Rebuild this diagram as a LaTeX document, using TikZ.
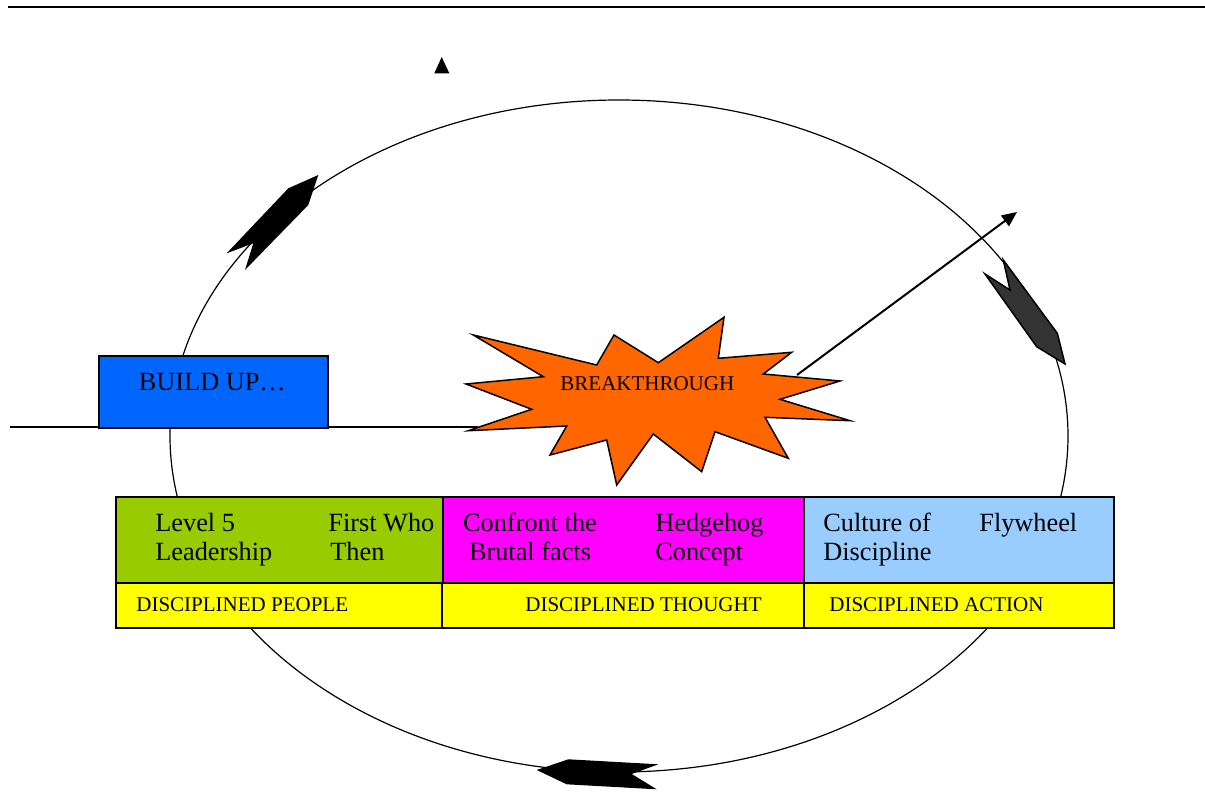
\documentclass[tikz,border=0pt]{standalone}
\usepackage{fontspec}
\setmainfont{Liberation Serif}
\usepackage[usenames,dvipsnames]{xcolor}
\usepackage{tikz}
\usetikzlibrary{shapes,arrows,arrows.meta}

\begin{document}
\begin{tikzpicture}[x=0.5pt,y=-0.5pt,line join=miter]
\useasboundingbox (0,0) rectangle (1205,792);
\tikzset{bigtext/.style={font=\fontsize{13.15}{14.5}\selectfont, inner sep=0pt, align=left, anchor=base west},
  smalltext/.style={font=\fontsize{10.5}{12}\selectfont, inner sep=0pt, anchor=base west},
  panel/.style={draw, line width=0.75pt, rectangle, inner sep=0pt, anchor=north west}}
\definecolor{buildColor}{RGB}{0,102,255}
\definecolor{burstColor}{RGB}{255,102,0}
\definecolor{peopleColor}{RGB}{153,204,0}
\definecolor{thoughtColor}{RGB}{255,0,255}
\definecolor{actionColor}{RGB}{153,204,255}
\definecolor{barColor}{RGB}{255,255,0}
\definecolor{wheelColor}{RGB}{51,51,51}
% rule and loop
\draw[line width=0.7pt] (8,7) -- (1205,7);
\draw[line width=0.6pt] (619,436) ellipse [x radius=449, y radius=336];
\fill (441.7,57) -- (449.3,73.3) -- (434.3,73.3) -- cycle;
% build up
\coordinate (base start) at (10,427);
\coordinate (burst west) at (478,427);
\draw[line width=0.75pt] (base start) -- (burst west);
\node[panel, fill=buildColor, minimum width=114.5pt, minimum height=36pt] (buildup) at (98,355) {};
\node[bigtext] (buildup text) at (138.5,390) {BUILD UP…};
% breakthrough
\draw[fill=burstColor, line width=0.75pt] (473.3,335) -- (596.7,365) -- (614,335) -- (658.3,362.7) -- (724,317.3) -- (718.3,358.3) -- (791.7,352.3) -- (763.3,374) -- (840,381) -- (780,399.3) -- (850,420.7) -- (765,417.3) -- (788.3,458.3) -- (715,431.7) -- (701.7,471.7) -- (653.3,434) -- (616.7,485) -- (606.7,440) -- (550,455) -- (566.7,426) -- (468.3,430.7) -- (531.7,409.3) -- (466,384) -- (543.3,376.7) -- cycle;
\node[smalltext] (burst text) at (560,390.7) {BREAKTHROUGH};
\coordinate (burst ne) at (797,375);
\coordinate (arrow end) at (1017,212);
\draw[-{Triangle[length=7.5pt,width=6.5pt]},line width=1pt] (burst ne) -- (arrow end);
% flywheel arrows
\fill (318.3,175) -- (288.3,188.3) -- (226.7,253.3) -- (253.3,243.3) -- (245,270) -- (308.3,205) -- cycle;
\draw[fill=wheelColor, line width=0.75pt] (1003.3,260) -- (1010,290) -- (985,274) -- (1036.7,346.7) -- (1065,364) -- (1057.3,333.3) -- cycle;
\fill (536.7,770) -- (568.3,759.3) -- (658.3,764.3) -- (631.7,774) -- (656.7,789.3) -- (566.7,784.3) -- cycle;
% stages
\node[panel, fill=peopleColor, minimum width=163.5pt, minimum height=43pt] (people) at (115,496) {};
\node[panel, fill=thoughtColor, minimum width=180.5pt, minimum height=43pt] (thought) at (442,496) {};
\node[panel, fill=actionColor, minimum width=155pt, minimum height=43pt] (action) at (803,496) {};
\node[panel, fill=barColor, minimum width=163pt, minimum height=22.5pt] (people bar) at (115,582) {};
\node[panel, fill=barColor, minimum width=181pt, minimum height=22.5pt] (thought bar) at (441,582) {};
\node[panel, fill=barColor, minimum width=155pt, minimum height=22.5pt] (action bar) at (803,582) {};
\node[bigtext] (level five) at (155,560) {Level 5\\Leadership};
\node[bigtext] (first who) at (328,560) {First Who\\\hspace{1pt}Then};
\node[bigtext, align=center, anchor=base] (confront) at (530,560) {Confront the\\Brutal facts};
\node[bigtext] (hedgehog) at (655,560) {Hedgehog\\Concept};
\node[bigtext] (culture) at (823,560) {Culture of\\Discipline};
\node[bigtext] (flywheel) at (979,531) {Flywheel};
\node[smalltext] (people label) at (136,611.7) {DISCIPLINED PEOPLE};
\node[smalltext] (thought label) at (525,611.7) {DISCIPLINED THOUGHT};
\node[smalltext] (action label) at (829,611.7) {DISCIPLINED ACTION};
\end{tikzpicture}
\end{document}
